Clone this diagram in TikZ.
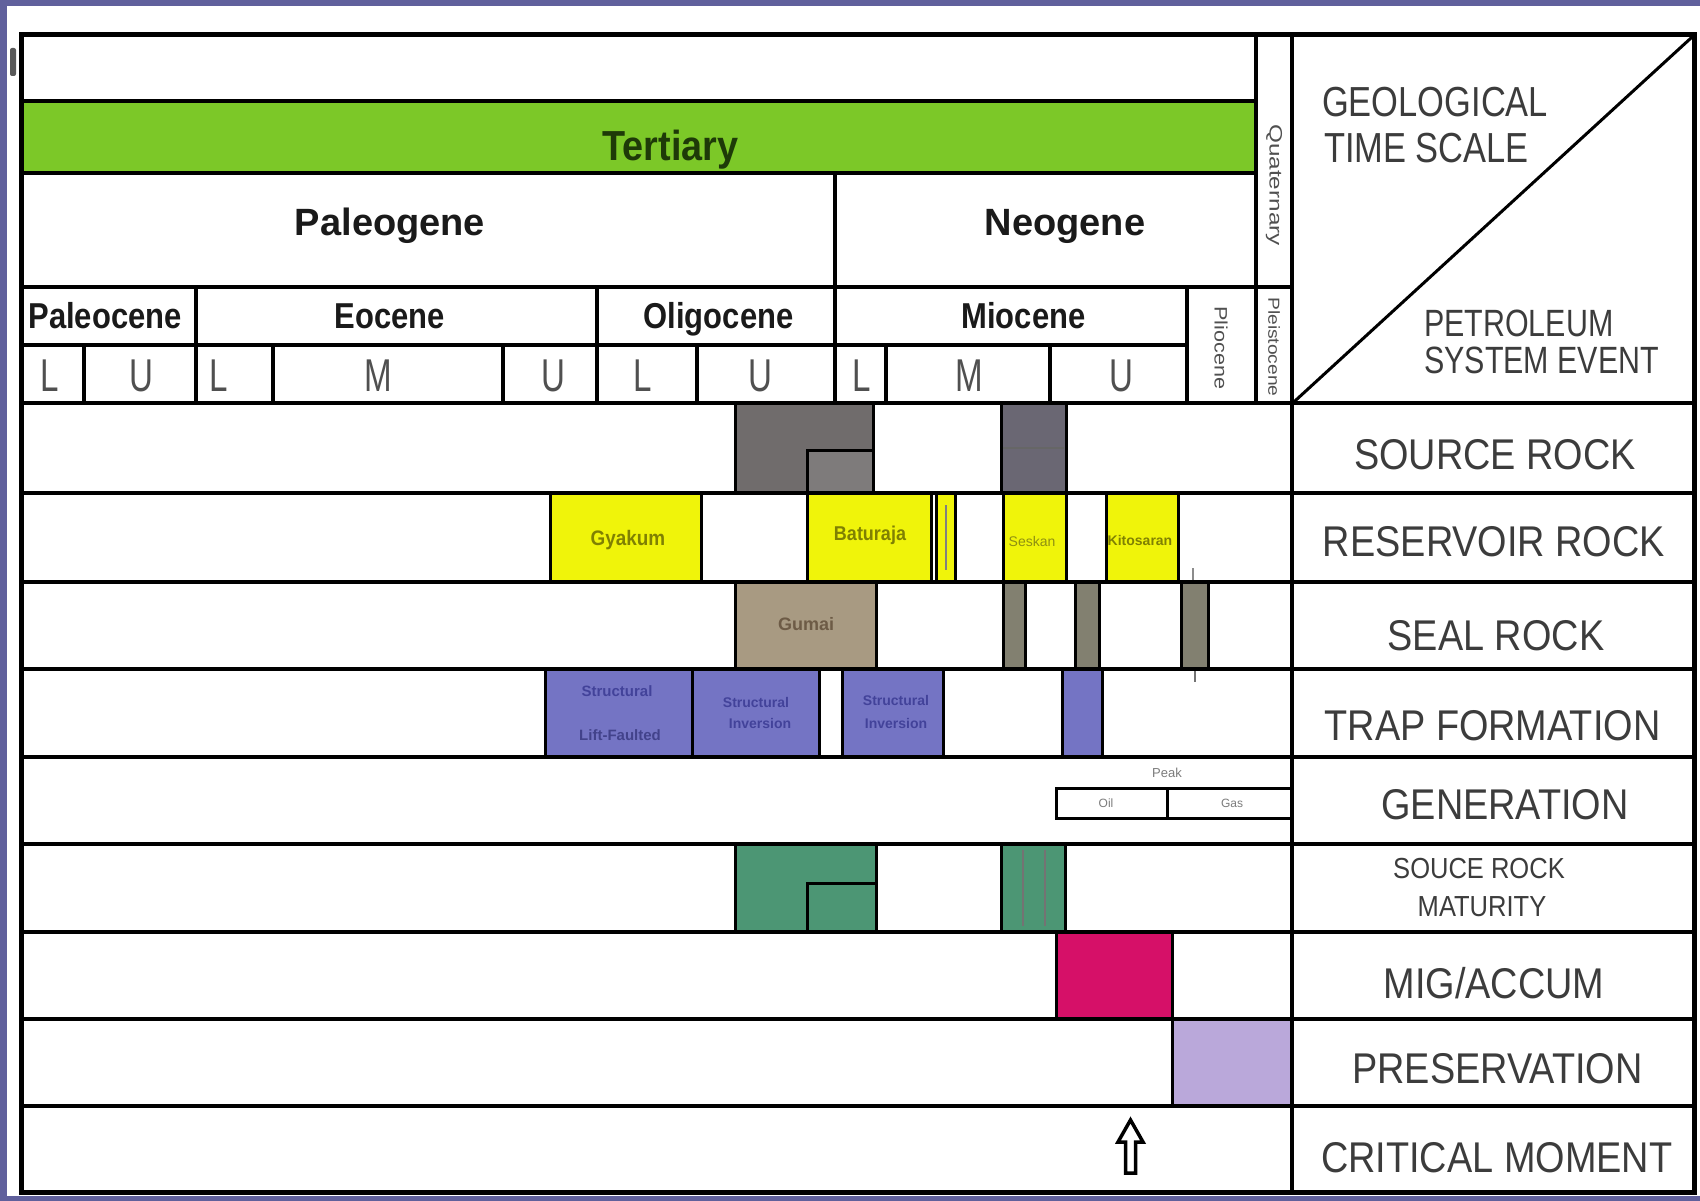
\documentclass[tikz,border=0pt]{standalone}
\usepackage{fontspec}
\setmainfont{Liberation Sans}
\newcommand\fsz[1]{\fontsize{#1}{#1}\selectfont}
\definecolor{framec}{RGB}{96,96,156}
\definecolor{tgreen}{RGB}{124,200,40}
\definecolor{srcgray}{RGB}{112,108,108}
\definecolor{resyel}{RGB}{240,244,10}
\definecolor{sealtan}{RGB}{168,154,130}
\definecolor{sealbar}{RGB}{130,128,112}
\definecolor{trapblue}{RGB}{116,116,196}
\definecolor{matgreen}{RGB}{76,150,116}
\definecolor{migmag}{RGB}{214,16,104}
\definecolor{preslav}{RGB}{186,168,218}
\definecolor{hdrtext}{RGB}{26,26,26}
\definecolor{subtext}{RGB}{80,80,80}
\definecolor{lbltext}{RGB}{60,60,60}
\begin{document}
\begin{tikzpicture}[x=1pt,y=-1pt,
  gridline/.style={line width=4pt},
  evbox/.style={draw=black, line width=3pt},
  hdr/.style={font=\bfseries\fsz{38}, text=hdrtext, inner sep=0pt, anchor=base},
  epo/.style={font=\bfseries\fsz{36}, xscale=0.86, text=hdrtext, inner sep=0pt, anchor=base},
  subdiv/.style={font=\fsz{46}, xscale=0.72, text=subtext, inner sep=0pt, anchor=base},
  evlabel/.style={font=\fsz{43}, xscale=0.88, text=lbltext, inner sep=0pt, anchor=base},
  cornerlbl/.style={text=lbltext, inner sep=0pt, anchor=base west},
  rotlbl/.style={text=subtext, inner sep=0pt, anchor=center},
  boxtxt/.style={inner sep=0pt, anchor=center, opacity=0.75}]
\useasboundingbox (0,0) rectangle (1700,1201);
\fill[white] (0,0) rectangle (1700,1201);
% purple frame
\fill[framec] (0,0) rectangle (1700,6);
\fill[framec] (0,0) rectangle (7,1201);
\fill[framec] (0,1196) rectangle (1700,1201);
\fill[black!65,rounded corners=2pt] (10,48) rectangle (16,76);

% Tertiary band
\fill[tgreen] (21.7,100.8) rectangle (1255.5,173.5);

% ---- Source rock
\fill[srcgray, evbox] (735,403.3) rectangle (873,493.3);
\fill[srcgray!90!white, evbox] (807,450) rectangle (873,493.3);
\fill[srcgray!95!blue, evbox] (1001,403.3) rectangle (1066,493.3);
\draw[black!60, line width=1.5pt] (1003,448) -- (1064,448);

% ---- Reservoir rock
\fill[resyel, evbox] (550,493.3) rectangle (701.4,582.2);
\fill[resyel, evbox] (807,493.3) rectangle (931.7,582.2);
\fill[resyel, evbox] (936,493.3) rectangle (955.6,582.2);
\fill[resyel, evbox] (1003.6,493.3) rectangle (1066,582.2);
\fill[resyel, evbox] (1106.7,493.3) rectangle (1178.7,582.2);
\draw[black!50, line width=1.5pt] (946,505) -- (946,570);
\draw[black!45, line width=1.5pt] (1193,568) -- (1193,582);

% ---- Seal rock
\fill[sealtan, evbox] (735,582.2) rectangle (876.5,669);
\fill[sealbar, evbox] (1003.6,582.2) rectangle (1025,669);
\fill[sealbar, evbox] (1075.5,582.2) rectangle (1099.5,669);
\fill[sealbar, evbox] (1181,582.2) rectangle (1208,669);
\draw[black!55, line width=2pt] (1194.5,669) -- (1194.5,682);

% ---- Trap formation
\fill[trapblue, evbox] (545.6,669) rectangle (692.5,756.8);
\fill[trapblue, evbox] (692.5,669) rectangle (819,756.8);
\fill[trapblue, evbox] (842,669) rectangle (943,756.8);
\fill[trapblue, evbox] (1062.5,669) rectangle (1102,756.8);

% ---- Generation table
\draw[line width=3pt] (1056,788) rectangle (1292,818);
\draw[line width=3pt] (1167.7,788) -- (1167.7,818);

% ---- Source rock maturity
\fill[matgreen, evbox] (735,843.5) rectangle (876.5,932.4);
\fill[matgreen, evbox] (807,883) rectangle (876.5,932.4);
\fill[matgreen, evbox] (1001,843.5) rectangle (1065.5,932.4);
\draw[black!55, line width=1.5pt] (1023,850) -- (1023,926) (1045,850) -- (1045,926);

% ---- Migration / accumulation
\fill[migmag, evbox] (1056,932.4) rectangle (1172.7,1019.1);
% ---- Preservation
\fill[preslav, evbox] (1172.7,1019.1) rectangle (1292.4,1105.9);

% ---- Critical moment arrow
\draw[line width=3.5pt, fill=white, line join=miter]
  (1125.5,1173) -- (1125.5,1142) -- (1118,1142) -- (1130.5,1120)
  -- (1143,1142) -- (1135.5,1142) -- (1135.5,1173) -- cycle;

% ---- Header grid
\draw[gridline] (21.7,100.8) -- (1255.5,100.8);
\draw[gridline] (21.7,173.5) -- (1255.5,173.5);
\draw[gridline] (21.7,287.3) -- (1292.4,287.3);
\draw[gridline] (21.7,344.8) -- (1187.2,344.8);
\draw[gridline] (834.8,173.5) -- (834.8,403.3);
\foreach \xx in {196.2,597.4,1187.2} \draw[gridline] (\xx,287.3) -- (\xx,403.3);
\foreach \xx in {83.5,273.2,503.1,697.1,885.8,1049.5} \draw[gridline] (\xx,344.8) -- (\xx,403.3);
\draw[gridline] (1255.5,34.7) -- (1255.5,403.3);
\draw[gridline] (1292.4,34.7) -- (1292.4,1192.6);
\draw[line width=3pt] (1292.4,403.3) -- (1694.6,34.7);

% ---- Event row lines
\foreach \yy in {403.3,493.3,582.2,669,756.8,843.5,932.4,1019.1,1105.9}
  \draw[gridline] (21.7,\yy) -- (1694.6,\yy);

% outer border
\draw[line width=5pt] (21.7,34.7) rectangle (1694.6,1192.6);

% ---- Header texts
\node[hdr, font=\bfseries\fsz{42}, xscale=0.9, text={rgb,255:red,30;green,58;blue,8}] (tert) at (670.5,160.5) {Tertiary};
\node[hdr] (paleog) at (390,236) {Paleogene};
\node[hdr] (neog) at (1065,236) {Neogene};
\node[epo] (paleoc) at (105,328) {Paleocene};
\node[epo] (eoc) at (389.5,328) {Eocene};
\node[epo] (olig) at (718.5,328) {Oligocene};
\node[epo] (mioc) at (1023.5,328) {Miocene};
\node[subdiv] (s1) at (50,391) {L};
\node[subdiv] (s2) at (141.5,391) {U};
\node[subdiv] (s3) at (219,391) {L};
\node[subdiv] (s4) at (378.6,391) {M};
\node[subdiv] (s5) at (553.6,391) {U};
\node[subdiv] (s6) at (643,391) {L};
\node[subdiv] (s7) at (760,391) {U};
\node[subdiv] (s8) at (861.6,391) {L};
\node[subdiv] (s9) at (969.5,391) {M};
\node[subdiv] (s10) at (1121,391) {U};
\node[rotlbl, font=\fsz{18}, rotate=-90, xscale=1.2] (plio) at (1221,348) {Pliocene};
\node[rotlbl, font=\fsz{18}, rotate=-90, xscale=1.35] (quat) at (1274,185) {Quaternary};
\node[rotlbl, font=\fsz{16}, rotate=-90, xscale=1.2] (pleist) at (1274,347) {Pleistocene};

% ---- Corner texts
\node[cornerlbl, font=\fsz{42}, xscale=0.82] (geo1) at (1322,116.7) {GEOLOGICAL};
\node[cornerlbl, font=\fsz{42}, xscale=0.82] (geo2) at (1324,163) {TIME SCALE};
\node[cornerlbl, font=\fsz{38}, xscale=0.8] (pet1) at (1424,336.7) {PETROLEUM};
\node[cornerlbl, font=\fsz{38}, xscale=0.8] (pet2) at (1424,373.3) {SYSTEM EVENT};

% ---- Event labels
\node[evlabel] (lsrc) at (1495,469) {SOURCE ROCK};
\node[evlabel] (lres) at (1494,556) {RESERVOIR ROCK};
\node[evlabel] (lseal) at (1496,650.6) {SEAL ROCK};
\node[evlabel] (ltrap) at (1492.5,740) {TRAP FORMATION};
\node[evlabel] (lgen) at (1505,819.4) {GENERATION};
\node[evlabel, font=\fsz{29}, xscale=1] (lmat1) at (1479,878) {SOUCE ROCK};
\node[evlabel, font=\fsz{29}, xscale=1] (lmat2) at (1482,916.6) {MATURITY};
\node[evlabel] (lmig) at (1494,998.5) {MIG/ACCUM};
\node[evlabel] (lpres) at (1497.5,1083) {PRESERVATION};
\node[evlabel] (lcrit) at (1496.7,1172.4) {CRITICAL MOMENT};

% ---- Small texts inside boxes
\node[boxtxt, font=\bfseries\fsz{21}, xscale=0.9, text={rgb,255:red,90;green,90;blue,0}] (r1) at (628,540) {Gyakum};
\node[boxtxt, font=\bfseries\fsz{20}, xscale=0.9, text={rgb,255:red,90;green,90;blue,0}] (r2) at (870,535) {Baturaja};
\node[boxtxt, font=\fsz{14}, text={rgb,255:red,110;green,110;blue,20}] (r3) at (1032,541) {Seskan};
\node[boxtxt, font=\bfseries\fsz{14}, text={rgb,255:red,90;green,90;blue,0}] (r4) at (1140,540) {Kitosaran};
\node[boxtxt, font=\bfseries\fsz{18}, text={rgb,255:red,90;green,70;blue,50}] (sl1) at (806,624) {Gumai};
\node[boxtxt, font=\bfseries\fsz{15}, text={rgb,255:red,50;green,50;blue,140}] (t1a) at (617,691) {Structural};
\node[boxtxt, font=\bfseries\fsz{15}, text={rgb,255:red,50;green,50;blue,120}] (t1b) at (620,735) {Lift-Faulted};
\node[boxtxt, font=\bfseries\fsz{14}, text={rgb,255:red,50;green,50;blue,140}] (t2a) at (756,702) {Structural};
\node[boxtxt, font=\bfseries\fsz{14}, text={rgb,255:red,50;green,50;blue,140}] (t2b) at (760,723) {Inversion};
\node[boxtxt, font=\bfseries\fsz{14}, text={rgb,255:red,50;green,50;blue,140}] (t3a) at (896,700) {Structural};
\node[boxtxt, font=\bfseries\fsz{14}, text={rgb,255:red,50;green,50;blue,140}] (t3b) at (896,723) {Inversion};
\node[boxtxt, font=\fsz{13}, text=subtext] (gpeak) at (1167,773) {Peak};
\node[boxtxt, font=\fsz{12}, text=subtext] (goil) at (1106,803) {Oil};
\node[boxtxt, font=\fsz{12}, text=subtext] (ggas) at (1232,803) {Gas};
\end{tikzpicture}
\end{document}
